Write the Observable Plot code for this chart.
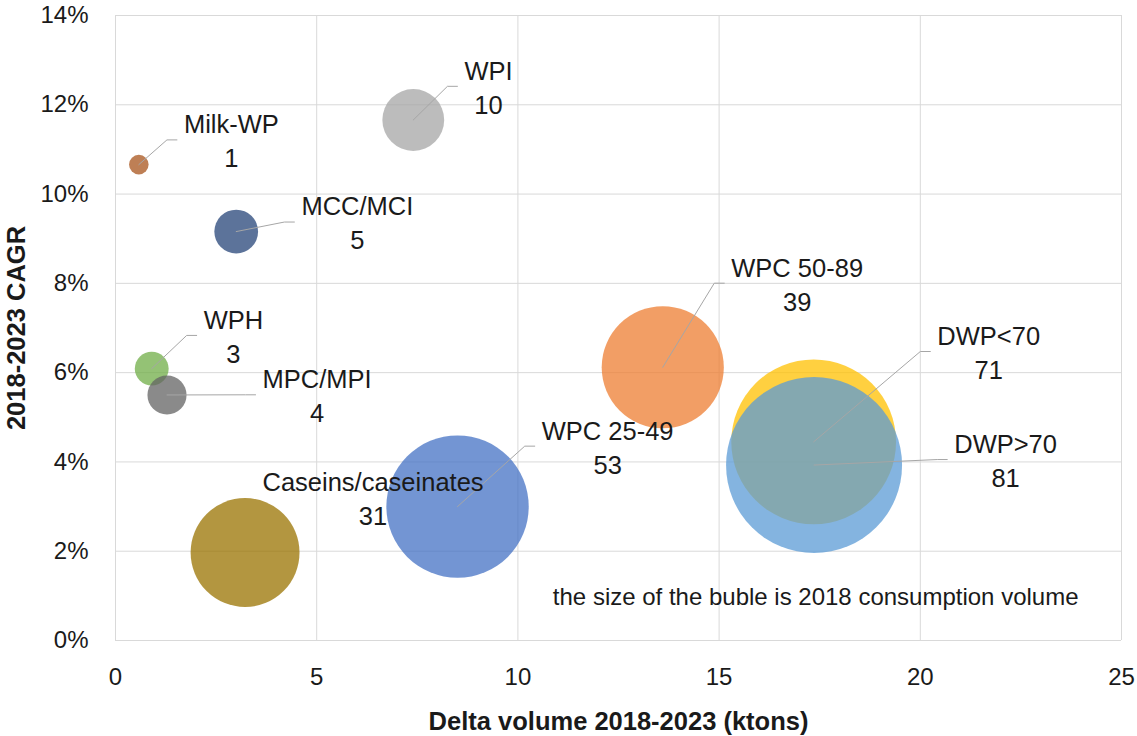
<!DOCTYPE html>
<html>
<head>
<meta charset="utf-8">
<script src="https://cdn.jsdelivr.net/npm/d3@7"></script>
<script src="https://cdn.jsdelivr.net/npm/@observablehq/plot@0.6"></script>
<style>
  html, body { margin: 0; padding: 0; background: #fff; }
  #chart svg { display: block; }
</style>
</head>
<body>
<div id="chart"></div>
<script>
// Dairy protein ingredients: growth (CAGR) vs. added volume; bubble area = 2018 consumption
const products    = ["WPC 25-49", "WPC 50-89", "WPI", "DWP<70", "DWP>70", "WPH", "MCC/MCI", "Milk-WP", "MPC/MPI", "Caseins/caseinates"];
const deltaVolume = [8.5, 13.6, 7.4, 17.35, 17.36, 0.9, 3.0, 0.58, 1.28, 3.22];           // ktons, 2018-2023
const cagr        = [0.030, 0.0612, 0.1166, 0.0445, 0.0393, 0.0609, 0.0916, 0.1066, 0.0550, 0.0197];
const volume2018  = [53, 39, 10, 71, 81, 3, 5, 1, 4, 31];                                  // ktons
const xTicks = [0, 5, 10, 15, 20, 25];
const yTicks = [0, 0.02, 0.04, 0.06, 0.08, 0.10, 0.12, 0.14];

// series colours (Office palette), drawn semi-transparent
const colors = ["#4472C4", "#ED7D31", "#A5A5A5", "#FFC000", "#5B9BD5", "#70AD47", "#264478", "#A8541C", "#636363", "#997300"];

// where each data label sits (centre of the two-line block, data units) and whether it gets a leader
const labelX    = [12.23, 16.94, 9.27, 21.70, 22.12, 2.93, 6.01, 2.88, 5.01, 6.40];
const labelY    = [0.0432, 0.0797, 0.1238, 0.0644, 0.0402, 0.0680, 0.0934, 0.1118, 0.0547, 0.0317];
const hasLeader = [true, true, true, true, true, true, true, true, true, false];

// frame
const W = 1137, H = 736;
const M = {top: 15, right: 16, bottom: 96, left: 115};
const FONT = "'Liberation Sans', Arial, sans-serif";
const LABEL_SIZE = 25.5;
const TEXT = "#1a1a1a";

const sx = d3.scaleLinear([0, 25], [M.left, W - M.right]);
const sy = d3.scaleLinear([0, 0.14], [H - M.bottom, M.top]);

const rows = products.map((name, i) => ({
  name, x: deltaVolume[i], y: cagr[i], v: volume2018[i], color: colors[i],
  lx: labelX[i], ly: labelY[i], leader: hasLeader[i]
}));

// leader lines: from the bubble centre to just left of the label, ending in a short horizontal tail
const ctx = document.createElement("canvas").getContext("2d");
ctx.font = `${LABEL_SIZE}px ${FONT}`;
const leaders = [];
for (const d of rows) {
  if (!d.leader) continue;
  const w = Math.max(ctx.measureText(d.name).width, ctx.measureText(String(d.v)).width);
  const endX = sx(d.lx) - w / 2 - 7;
  const endY = sy(d.ly) - 1.5;
  leaders.push({name: d.name, x: d.x, y: d.y});
  leaders.push({name: d.name, x: sx.invert(endX - 10), y: sy.invert(endY)});
  leaders.push({name: d.name, x: sx.invert(endX), y: sy.invert(endY)});
}

const chart = Plot.plot({
  width: W,
  height: H,
  marginTop: M.top,
  marginRight: M.right,
  marginBottom: M.bottom,
  marginLeft: M.left,
  style: {fontFamily: FONT, fontSize: "24px", color: TEXT, background: "#fff", overflow: "visible"},
  x: {domain: [0, 25]},
  y: {domain: [0, 0.14]},
  r: {type: "sqrt", domain: [0, 81], range: [0, 88]},
  color: {type: "identity"},
  marks: [
    Plot.gridX(xTicks, {stroke: "#D9D9D9", strokeOpacity: 1, strokeWidth: 1}),
    Plot.gridY(yTicks, {stroke: "#D9D9D9", strokeOpacity: 1, strokeWidth: 1}),
    Plot.dot(rows, {x: "x", y: "y", r: "v", fill: "color", fillOpacity: 0.75, stroke: "none", sort: null}),
    Plot.line(leaders, {x: "x", y: "y", z: "name", stroke: "#A6A6A6", strokeWidth: 1, curve: "linear"}),
    Plot.text(rows, {
      x: "lx", y: "ly", text: d => `${d.name}\n${d.v}`,
      lineAnchor: "middle", lineHeight: 1.333, fontSize: LABEL_SIZE, dy: -2, fill: TEXT
    }),
    Plot.axisX({ticks: xTicks, tickSize: 0, tickPadding: 27, label: null, fontSize: 24, fill: TEXT}),
    Plot.axisY({ticks: yTicks, tickSize: 0, tickPadding: 27, tickFormat: d3.format(".0%"), label: null, fontSize: 24, fill: TEXT}),
    Plot.text(["Delta volume 2018-2023 (ktons)"], {
      text: d => d, frameAnchor: "bottom", lineAnchor: "bottom", dy: 89,
      fontWeight: "bold", fontSize: LABEL_SIZE, fill: TEXT
    }),
    Plot.text(["2018-2023 CAGR"], {
      text: d => d, frameAnchor: "left", rotate: -90, dx: -99, textAnchor: "middle", lineAnchor: "middle",
      fontWeight: "bold", fontSize: LABEL_SIZE, fill: TEXT
    }),
    Plot.text(["the size of the buble is 2018 consumption volume"], {
      text: d => d, frameAnchor: "bottom-right", textAnchor: "end", lineAnchor: "middle",
      dx: -43, dy: -43, fontSize: 24, fill: TEXT
    })
  ]
});

document.getElementById("chart").append(chart);
</script>
</body>
</html>
